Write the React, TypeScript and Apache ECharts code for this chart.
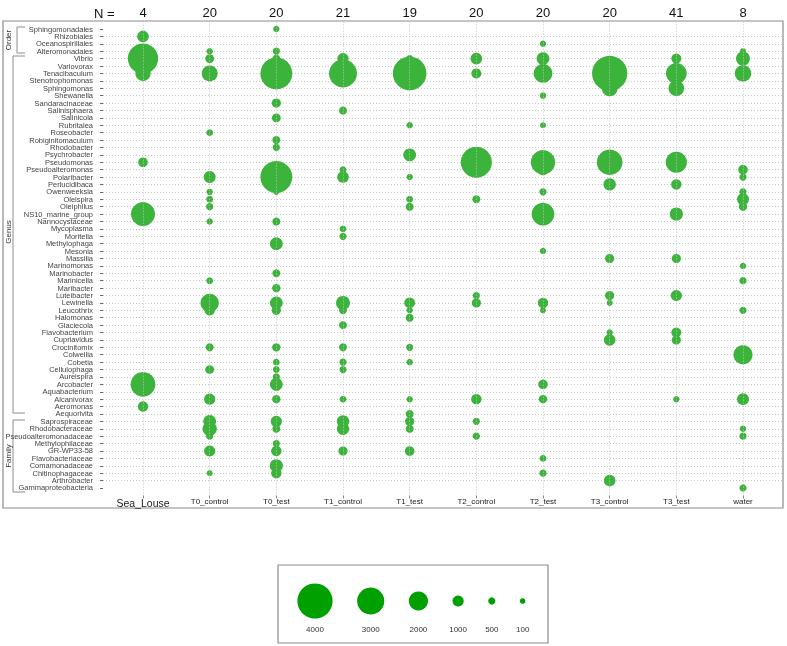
import React, { useEffect, useRef } from "react";
import * as echarts from "echarts";

const taxa = [
  "Sphingomonadales", "Rhizobiales", "Oceanospirillales", "Alteromonadales",
  "Vibrio", "Variovorax", "Tenacibaculum", "Stenotrophomonas", "Sphingomonas", "Shewanella",
  "Sandaracinaceae", "Salinisphaera", "Salinicola", "Rubritalea", "Roseobacter",
  "Robiginitomaculum", "Rhodobacter", "Psychrobacter", "Pseudomonas", "Pseudoalteromonas",
  "Polaribacter", "Perlucidibaca", "Owenweeksia", "Oleispira", "Oleiphilus",
  "NS10_marine_group", "Nannocystaceae", "Mycoplasma", "Moritella", "Methylophaga",
  "Mesonia", "Massilia", "Marinomonas", "Marinobacter", "Marinicella", "Maribacter",
  "Luteibacter", "Lewinella", "Leucothrix", "Halomonas", "Glaciecola", "Flavobacterium",
  "Cupriavidus", "Crocinitomix", "Colwellia", "Cobetia", "Cellulophaga", "Aureispira",
  "Arcobacter", "Aquabacterium", "Alcanivorax", "Aeromonas", "Aequorivita",
  "Saprospiraceae", "Rhodobacteraceae", "Pseudoalteromonadaceae", "Methylophilaceae",
  "GR-WP33-58", "Flavobacteriaceae", "Comamonadaceae", "Chitinophagaceae",
  "Arthrobacter", "Gammaproteobacteria",
];

const samples = ["Sea_Louse", "T0_control", "T0_test", "T1_control", "T1_test", "T2_control", "T2_test", "T3_control", "T3_test", "water"];
const nCounts = [4, 20, 20, 21, 19, 20, 20, 20, 41, 8];

const seaLouse: [string, number][] = [
  ["Rhizobiales", 1050], ["Vibrio", 3400], ["Tenacibaculum", 1500], ["Pseudomonas", 800],
  ["NS10_marine_group", 2600], ["Arcobacter", 2700], ["Aeromonas", 900],
];
const t0Control: [string, number][] = [
  ["Alteromonadales", 400], ["Vibrio", 700], ["Tenacibaculum", 1600], ["Roseobacter", 450],
  ["Polaribacter", 1100], ["Owenweeksia", 400], ["Oleispira", 450], ["Oleiphilus", 500],
  ["Nannocystaceae", 400], ["Marinicella", 450], ["Lewinella", 1900], ["Leucothrix", 900],
  ["Crocinitomix", 600], ["Cellulophaga", 700], ["Alcanivorax", 1000], ["Saprospiraceae", 1200],
  ["Rhodobacteraceae", 1400], ["Pseudoalteromonadaceae", 500], ["GR-WP33-58", 1000], ["Chitinophagaceae", 350],
];
const t0Test: [string, number][] = [
  ["Sphingomonadales", 400], ["Alteromonadales", 500], ["Vibrio", 600], ["Tenacibaculum", 3600],
  ["Sandaracinaceae", 750], ["Salinicola", 700], ["Robiginitomaculum", 600], ["Rhodobacter", 500],
  ["Polaribacter", 3600], ["Owenweeksia", 350], ["Nannocystaceae", 600], ["Methylophaga", 1200],
  ["Marinobacter", 600], ["Maribacter", 650], ["Lewinella", 1200], ["Leucothrix", 750],
  ["Crocinitomix", 650], ["Cobetia", 450], ["Cellulophaga", 450], ["Aureispira", 500],
  ["Arcobacter", 1200], ["Alcanivorax", 650], ["Saprospiraceae", 1000], ["Rhodobacteraceae", 600],
  ["Methylophilaceae", 500], ["GR-WP33-58", 900], ["Comamonadaceae", 1250], ["Chitinophagaceae", 900],
];
const t1Control: [string, number][] = [
  ["Vibrio", 1000], ["Tenacibaculum", 3100], ["Salinisphaera", 600], ["Pseudoalteromonas", 450],
  ["Polaribacter", 1050], ["Mycoplasma", 450], ["Moritella", 500], ["Lewinella", 1350],
  ["Leucothrix", 600], ["Glaciecola", 600], ["Crocinitomix", 600], ["Cobetia", 500],
  ["Cellulophaga", 500], ["Alcanivorax", 450], ["Saprospiraceae", 1150], ["Rhodobacteraceae", 1150],
  ["GR-WP33-58", 750],
];
const t1Test: [string, number][] = [
  ["Vibrio", 500], ["Tenacibaculum", 3800], ["Rubritalea", 400], ["Psychrobacter", 1200],
  ["Polaribacter", 400], ["Oleispira", 450], ["Oleiphilus", 600], ["Lewinella", 950],
  ["Leucothrix", 400], ["Halomonas", 600], ["Crocinitomix", 500], ["Cobetia", 400],
  ["Alcanivorax", 400], ["Aequorivita", 600], ["Saprospiraceae", 750], ["Rhodobacteraceae", 600],
  ["GR-WP33-58", 800],
];
const t2Control: [string, number][] = [
  ["Vibrio", 1050], ["Tenacibaculum", 850], ["Pseudomonas", 3500], ["Oleispira", 600],
  ["Luteibacter", 500], ["Lewinella", 750], ["Alcanivorax", 900], ["Saprospiraceae", 500],
  ["Pseudoalteromonadaceae", 500],
];
const t2Test: [string, number][] = [
  ["Oceanospirillales", 400], ["Vibrio", 1200], ["Tenacibaculum", 1950], ["Shewanella", 400],
  ["Rubritalea", 350], ["Pseudomonas", 2650], ["Pseudoalteromonas", 1000], ["Owenweeksia", 500],
  ["NS10_marine_group", 2450], ["Mesonia", 400], ["Lewinella", 900], ["Leucothrix", 350],
  ["Arcobacter", 800], ["Alcanivorax", 650], ["Flavobacteriaceae", 450], ["Chitinophagaceae", 500],
];
const t3Control: [string, number][] = [
  ["Tenacibaculum", 4000], ["Sphingomonas", 1600], ["Pseudomonas", 2800], ["Perlucidibaca", 1150],
  ["Massilia", 750], ["Luteibacter", 750], ["Lewinella", 350], ["Flavobacterium", 400],
  ["Cupriavidus", 1050], ["Arthrobacter", 1050],
];
const t3Test: [string, number][] = [
  ["Vibrio", 850], ["Tenacibaculum", 2200], ["Sphingomonas", 1550], ["Pseudomonas", 2250],
  ["Perlucidibaca", 900], ["NS10_marine_group", 1250], ["Massilia", 750], ["Luteibacter", 1000],
  ["Flavobacterium", 850], ["Cupriavidus", 750], ["Alcanivorax", 400],
];
const water: [string, number][] = [
  ["Alteromonadales", 350], ["Vibrio", 1350], ["Tenacibaculum", 1650], ["Pseudoalteromonas", 800],
  ["Polaribacter", 500], ["Owenweeksia", 500], ["Oleispira", 1100], ["Oleiphilus", 650],
  ["Marinomonas", 400], ["Marinicella", 500], ["Leucothrix", 500], ["Colwellia", 2000],
  ["Alcanivorax", 1100], ["Rhodobacteraceae", 400], ["Pseudoalteromonadaceae", 500], ["Gammaproteobacteria", 500],
];

const legendValues = [4000, 3000, 2000, 1000, 500, 100];

const bubbleSize = (v: number) => Math.max(5.5, 3.2 + v * 0.008);

export default function App() {
  const ref = useRef<HTMLDivElement>(null);
  useEffect(() => {
    if (!ref.current) return;
    const chart = echarts.init(ref.current, null, { renderer: "svg" });
    const sampleLists = [seaLouse, t0Control, t0Test, t1Control, t1Test, t2Control, t2Test, t3Control, t3Test, water];
    const data = sampleLists.flatMap((list, ci) =>
      list.map(([name, v]) => [ci, taxa.indexOf(name), v])
    );
    const colIdx = samples.map((_, i) => i);
    const rowIdx = taxa.map((_, i) => i);
    const evenRows = rowIdx.filter((i) => i % 2 === 0);
    const oddRows = rowIdx.filter((i) => i % 2 === 1);
    const font = "Liberation Sans, Arial, sans-serif";

    // legend layout: constant gap between circle edges
    const legendGraphics: any[] = [];
    let cx = 315;
    legendValues.forEach((v, i) => {
      const d = bubbleSize(v);
      if (i > 0) cx += bubbleSize(legendValues[i - 1]) / 2 + d / 2 + 24.5;
      legendGraphics.push({
        type: "circle",
        shape: { cx, cy: 601, r: d / 2 },
        style: { fill: "#00a000" },
      });
      legendGraphics.push({
        type: "text",
        x: cx,
        y: 629,
        style: { text: String(v), fontSize: 8, fill: "#333", align: "center", verticalAlign: "middle", fontFamily: font },
      });
    });

    const gray = "#8c8c8c";
    const sideText = (text: string, y: number) => ({
      type: "text",
      x: 8,
      y,
      rotation: Math.PI / 2,
      style: { text, fontSize: 8, fill: "#333", align: "center", verticalAlign: "middle", fontFamily: font },
    });

    const yBase = {
      type: "value",
      inverse: true,
      min: -1,
      max: 63,
      interval: 1,
      position: "left",
      axisLine: { show: false, onZero: false },
    };
    const yLabel = (vals: number[]) => ({
      customValues: vals,
      showMinLabel: true,
      showMaxLabel: true,
      margin: 10,
      fontSize: 7.5,
      lineHeight: 7,
      color: "#444",
      formatter: (v: number) => taxa[v] ?? "",
    });

    chart.setOption({
      animation: false,
      textStyle: { fontFamily: font },
      grid: { left: 103, right: 4, top: 21.6, bottom: 150.6 },
      xAxis: [
        {
          type: "value",
          min: -0.6,
          max: 9.6,
          position: "bottom",
          axisLine: { show: false, onZero: false },
          splitLine: { show: false },
          axisTick: { show: true, customValues: colIdx, length: 3, lineStyle: { color: "#888" } },
          axisLabel: {
            customValues: colIdx,
            showMinLabel: true,
            showMaxLabel: true,
            margin: 2,
            formatter: (v: number) => (v === 0 ? `{big|${samples[v]}}` : `{small|${samples[v]}}`),
            rich: {
              big: { fontSize: 10.5, color: "#222" },
              small: { fontSize: 8, color: "#222" },
            },
          },
        },
        {
          type: "value",
          min: -0.6,
          max: 9.6,
          position: "top",
          axisLine: { show: false, onZero: false },
          splitLine: { show: false },
          axisTick: { show: false },
          axisLabel: {
            customValues: colIdx,
            showMinLabel: true,
            showMaxLabel: true,
            margin: 3,
            fontSize: 13,
            color: "#111",
            formatter: (v: number) => String(nCounts[v]),
          },
        },
      ],
      yAxis: [
        {
          ...yBase,
          axisTick: { show: true, customValues: rowIdx, length: 3, lineStyle: { color: "#666" } },
          axisLabel: yLabel(evenRows),
          splitLine: {
            show: true,
            showMinLine: false,
            showMaxLine: false,
            lineStyle: { type: [1, 2], color: "#c4c4c4", width: 1 },
          },
        },
        {
          ...yBase,
          offset: 0,
          axisTick: { show: false },
          axisLabel: yLabel(oddRows),
          splitLine: { show: false },
        },
      ],
      series: [
        {
          type: "scatter",
          data: [],
          z: 1,
          silent: true,
          markLine: {
            silent: true,
            symbol: ["none", "none"],
            label: { show: false },
            emphasis: { disabled: true },
            lineStyle: { type: [1, 2], color: "#c4c4c4", width: 1 },
            data: colIdx.map((i) => ({ xAxis: i })),
          },
        },
        {
          type: "scatter",
          z: 3,
          data,
          clip: false,
          symbol: "circle",
          symbolSize: (d: number[]) => bubbleSize(d[2]),
          itemStyle: { color: "#3cb43c", opacity: 1 },
        },
      ],
      graphic: [
        { type: "rect", shape: { x: 3, y: 21, width: 780, height: 487 }, style: { fill: "none", stroke: gray, lineWidth: 1.2 } },
        { type: "polyline", shape: { points: [[25, 27], [17, 27], [17, 53], [25, 53]] }, style: { fill: "none", stroke: gray, lineWidth: 1 } },
        { type: "polyline", shape: { points: [[25, 56], [13, 56], [13, 413], [25, 413]] }, style: { fill: "none", stroke: gray, lineWidth: 1 } },
        { type: "polyline", shape: { points: [[25, 420], [13, 420], [13, 492], [25, 492]] }, style: { fill: "none", stroke: gray, lineWidth: 1 } },
        sideText("Order", 40),
        sideText("Genus", 232),
        sideText("Family", 456),
        {
          type: "text",
          x: 94,
          y: 13,
          style: { text: "N =", fontSize: 13, fill: "#111", align: "left", verticalAlign: "middle", fontFamily: font },
        },
        { type: "rect", shape: { x: 278, y: 565, width: 270, height: 78 }, style: { fill: "none", stroke: gray, lineWidth: 1.2 } },
        ...legendGraphics,
      ],
    });
    return () => chart.dispose();
  }, []);
  return <div ref={ref} style={{ position: "fixed", left: 0, top: 0, width: 787, height: 646 }} />;
}
